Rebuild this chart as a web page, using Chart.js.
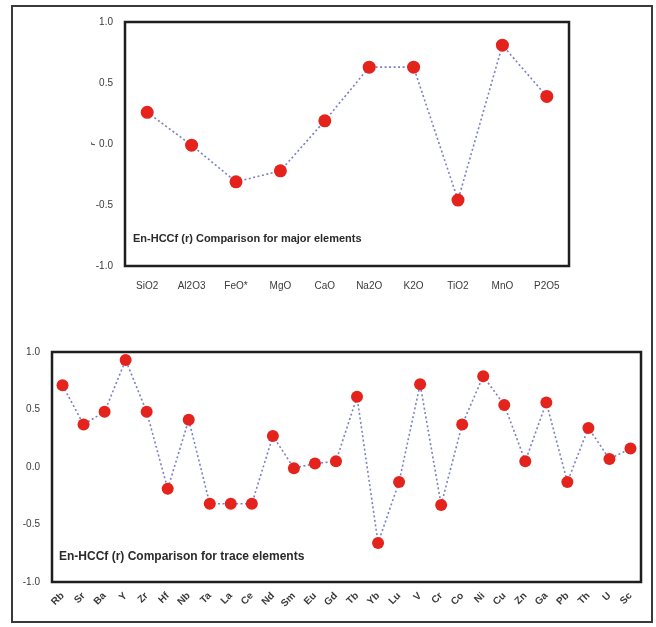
<html>
<head>
<script src="https://cdn.jsdelivr.net/npm/chart.js"></script>
<style>
  body { margin: 0; background: #fff; }
  #frame { position: absolute; left: 11px; top: 5px; width: 642px; height: 618px; box-sizing: border-box; border: 2px solid #3a3a3a; pointer-events: none; }
  #c1 { position: absolute; left: 0; top: 0; }
  #c2 { position: absolute; left: 0; top: 320px; }
</style>
</head>
<body>
<canvas id="c1" width="656" height="320"></canvas>
<canvas id="c2" width="656" height="307"></canvas>
<div id="frame"></div>
<script>
// major elements
var majorLabels = ['SiO2', 'Al2O3', 'FeO*', 'MgO', 'CaO', 'Na2O', 'K2O', 'TiO2', 'MnO', 'P2O5'];
var majorR = [0.26, -0.01, -0.31, -0.22, 0.19, 0.63, 0.63, -0.46, 0.81, 0.39];

// trace elements
var traceLabels = ['Rb', 'Sr', 'Ba', 'Y', 'Zr', 'Hf', 'Nb', 'Ta', 'La', 'Ce', 'Nd', 'Sm', 'Eu', 'Gd',
                   'Tb', 'Yb', 'Lu', 'V', 'Cr', 'Co', 'Ni', 'Cu', 'Zn', 'Ga', 'Pb', 'Th', 'U', 'Sc'];
var traceR = [0.71, 0.37, 0.48, 0.93, 0.48, -0.19, 0.41, -0.32, -0.32, -0.32, 0.27, -0.01, 0.03, 0.05,
              0.61, -0.66, -0.13, 0.72, -0.33, 0.37, 0.79, 0.54, 0.05, 0.56, -0.13, 0.34, 0.07, 0.16];

var yTicks = [-1.0, -0.5, 0.0, 0.5, 1.0];

var boxPlugin = {
    id: 'box',
    afterDraw: function(chart, args, opts) {
        var a = chart.chartArea, ctx = chart.ctx;
        ctx.save();
        ctx.lineWidth = 2.5;
        ctx.strokeStyle = '#1e1e1e';
        ctx.strokeRect(a.left, a.top, a.right - a.left, a.bottom - a.top);
        ctx.fillStyle = '#2a2a2a';
        ctx.font = 'bold ' + opts.size + 'px "Liberation Sans", Arial, sans-serif';
        ctx.textBaseline = 'middle';
        ctx.fillText(opts.text, a.left + opts.dx, a.bottom - opts.dy);
        ctx.restore();
    }
};

function makeChart(id, labels, values, o) {
    var ctx = document.getElementById(id).getContext('2d');
    return new Chart(ctx, {
        type: 'line',
        data: {
            labels: labels,
            datasets: [{
                data: values,
                borderColor: '#7a7fc8',
                borderWidth: 1.6,
                borderDash: [2, 2.5],
                pointBackgroundColor: '#e3231c',
                pointBorderColor: '#e3231c',
                pointRadius: o.r,
                pointBorderWidth: 0,
                tension: 0
            }]
        },
        plugins: [boxPlugin],
        options: {
            responsive: false,
            animation: false,
            layout: { padding: o.pad },
            plugins: {
                legend: { display: false },
                tooltip: { enabled: false },
                box: { text: o.text, size: o.fs, dx: o.tx, dy: o.ty }
            },
            scales: {
                x: {
                    offset: true,
                    grid: { display: false, drawTicks: false },
                    border: { display: false },
                    afterFit: function(s) { s.height = 40; },
                    ticks: {
                        padding: o.xpad,
                        color: '#3a3a3a',
                        autoSkip: false,
                        minRotation: o.rot,
                        maxRotation: o.rot,
                        font: { family: '"Liberation Sans", Arial, sans-serif', size: o.xfs, weight: o.xw }
                    }
                },
                y: {
                    min: -1, max: 1,
                    grid: { display: false, drawTicks: false },
                    border: { display: false },
                    afterFit: function(s) { s.width = o.yw; },
                    afterBuildTicks: function(s) { s.ticks = yTicks.map(function(v) { return { value: v }; }); },
                    title: { display: o.ytitle, text: 'r', font: { size: 8, style: 'italic', weight: 'bold' }, color: '#444', padding: 0 },
                    ticks: {
                        padding: 12,
                        color: '#3a3a3a',
                        font: { family: '"Liberation Sans", Arial, sans-serif', size: 10 },
                        callback: function(v) { return v.toFixed(1); }
                    }
                }
            }
        }
    });
}

makeChart('c1', majorLabels, majorR, {
    r: 6.5, pad: { left: 88, top: 22, right: 87, bottom: 14 }, yw: 37, ytitle: true,
    xpad: 14, rot: 0, xfs: 10, xw: 'normal',
    text: 'En-HCCf (r) Comparison for major elements', fs: 11, tx: 8, ty: 27
});

makeChart('c2', traceLabels, traceR, {
    r: 6, pad: { left: 14, top: 32, right: 15, bottom: 5 }, yw: 38, ytitle: false,
    xpad: 8, rot: 45, xfs: 10, xw: 'bold',
    text: 'En-HCCf (r) Comparison for trace elements', fs: 12, tx: 7, ty: 25
});
</script>
</body>
</html>
